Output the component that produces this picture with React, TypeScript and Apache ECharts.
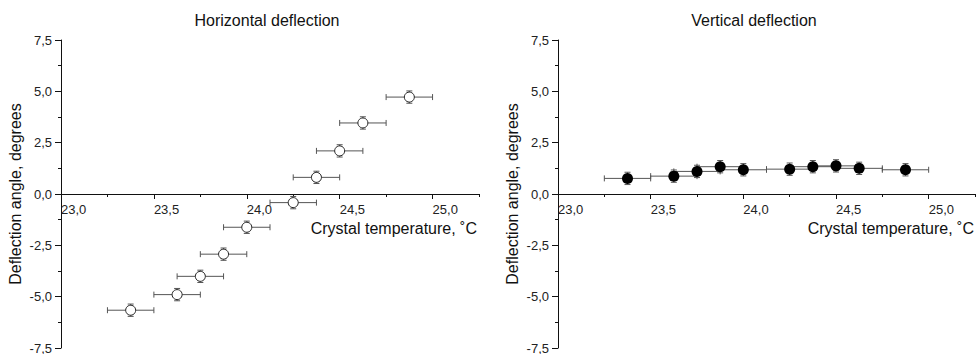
import React, { useEffect, useRef } from "react";
import * as echarts from "echarts";

// Horizontal deflection data (open circles)
const hTemp = [23.375, 23.625, 23.75, 23.875, 24.0, 24.25, 24.375, 24.5, 24.625, 24.875];
const hAngle = [-5.66, -4.9, -4.01, -2.93, -1.62, -0.42, 0.81, 2.1, 3.46, 4.72];
const hTempErr = [0.125, 0.125, 0.125, 0.125, 0.125, 0.125, 0.125, 0.125, 0.125, 0.125];
const hAngleErr = [0.3, 0.3, 0.3, 0.3, 0.3, 0.3, 0.3, 0.3, 0.3, 0.3];

// Vertical deflection data (filled circles)
const vTemp = [23.375, 23.625, 23.75, 23.875, 24.0, 24.25, 24.375, 24.5, 24.625, 24.875];
const vAngle = [0.76, 0.87, 1.1, 1.33, 1.18, 1.21, 1.33, 1.37, 1.25, 1.18];
const vTempErr = [0.125, 0.125, 0.125, 0.125, 0.125, 0.125, 0.125, 0.125, 0.125, 0.125];
const vAngleErr = [0.3, 0.3, 0.3, 0.3, 0.3, 0.3, 0.3, 0.3, 0.3, 0.3];

// Axis ticks
const xMajorTicks = [23.0, 23.5, 24.0, 24.5, 25.0];
const xMinorTicks = [23.25, 23.75, 24.25, 24.75, 25.25];
const xMin = 23.0;
const xMax = 25.25;
const xInterval = 0.25;
const yMin = -7.5;
const yMax = 7.5;
const yInterval = 2.5;

const titles = ["Horizontal deflection", "Vertical deflection"];
const xName = "Crystal temperature, \u02DAC";
const yName = "Deflection angle, degrees";

const FONT = "'Liberation Sans', Arial, sans-serif";
const comma = (v: number) => v.toFixed(1).replace(".", ",");

export default function App() {
  const ref = useRef<HTMLDivElement>(null);
  useEffect(() => {
    if (!ref.current) return;
    const chart = echarts.init(ref.current, null, { renderer: "svg" });

    const gridTop = 40;
    const gridHeight = 308;
    const grids = [
      { left: 61, top: gridTop, width: 418, height: gridHeight, containLabel: false, outerBoundsMode: "none" },
      { left: 558, top: gridTop, width: 417, height: gridHeight, containLabel: false, outerBoundsMode: "none" },
    ];
    // x axis sits at y = 0 (middle of the symmetric y range)
    const zeroOffset = -gridHeight * ((0 - yMin) / (yMax - yMin));

    const xAxes: any[] = [];
    const yAxes: any[] = [];
    grids.forEach((_, gi) => {
      xAxes.push({
        gridIndex: gi,
        type: "value",
        min: xMin,
        max: xMax,
        interval: xInterval,
        position: "bottom",
        offset: zeroOffset,
        axisLine: { show: true, onZero: false, lineStyle: { color: "#111", width: 1 } },
        axisTick: { show: true, length: 5, customValues: xMajorTicks, lineStyle: { color: "#111" } },
        axisLabel: {
          show: true,
          customValues: xMajorTicks,
          formatter: (v: number) => comma(v),
          align: "left",
          margin: 9,
          fontSize: 13,
          color: "#222",
          fontFamily: FONT,
        },
        splitLine: { show: false },
      });
      xAxes.push({
        gridIndex: gi,
        type: "value",
        min: xMin,
        max: xMax,
        interval: xInterval,
        position: "bottom",
        offset: zeroOffset,
        axisLine: { show: false, onZero: false },
        axisTick: { show: true, length: 3, customValues: xMinorTicks, lineStyle: { color: "#111" } },
        axisLabel: { show: false },
        splitLine: { show: false },
      });
      yAxes.push({
        gridIndex: gi,
        type: "value",
        min: yMin,
        max: yMax,
        interval: yInterval,
        position: "left",
        name: yName,
        nameLocation: "middle",
        nameGap: 38,
        nameTextStyle: { fontSize: 16, color: "#111", fontFamily: FONT },
        axisLine: { show: true, onZero: false, lineStyle: { color: "#111", width: 1 } },
        axisTick: { show: true, length: 6, lineStyle: { color: "#111" } },
        minorTick: { show: true, splitNumber: 2, length: 3, lineStyle: { color: "#111" } },
        axisLabel: {
          formatter: (v: number) => comma(v),
          margin: 9,
          fontSize: 13,
          color: "#222",
          fontFamily: FONT,
        },
        splitLine: { show: false },
      });
    });

    const errRender = (params: any, api: any) => {
      const x = api.value(0);
      const y = api.value(1);
      const xe = api.value(2);
      const ye = api.value(3);
      const l = api.coord([x - xe, y]);
      const r = api.coord([x + xe, y]);
      const t = api.coord([x, y + ye]);
      const b = api.coord([x, y - ye]);
      const cap = 3;
      const style = { stroke: "#555", lineWidth: 1 };
      return {
        type: "group",
        children: [
          { type: "line", shape: { x1: l[0], y1: l[1], x2: r[0], y2: r[1] }, style },
          { type: "line", shape: { x1: l[0], y1: l[1] - cap, x2: l[0], y2: l[1] + cap }, style },
          { type: "line", shape: { x1: r[0], y1: r[1] - cap, x2: r[0], y2: r[1] + cap }, style },
          { type: "line", shape: { x1: t[0], y1: t[1], x2: b[0], y2: b[1] }, style },
          { type: "line", shape: { x1: t[0] - cap, y1: t[1], x2: t[0] + cap, y2: t[1] }, style },
          { type: "line", shape: { x1: b[0] - cap, y1: b[1], x2: b[0] + cap, y2: b[1] }, style },
        ],
      };
    };

    const hData = hTemp.map((x, i) => [x, hAngle[i], hTempErr[i], hAngleErr[i]]);
    const vData = vTemp.map((x, i) => [x, vAngle[i], vTempErr[i], vAngleErr[i]]);

    chart.setOption({
      animation: false,
      textStyle: { fontFamily: FONT },
      grid: grids,
      xAxis: xAxes,
      yAxis: yAxes,
      graphic: [
        { type: "text", x: 267, y: 20, style: { text: titles[0], fontSize: 16, fill: "#111", fontFamily: FONT, align: "center", verticalAlign: "middle" } },
        { type: "text", x: 754, y: 20, style: { text: titles[1], fontSize: 16, fill: "#111", fontFamily: FONT, align: "center", verticalAlign: "middle" } },
        { type: "text", x: 477, y: 228, style: { text: xName, fontSize: 16, fill: "#111", fontFamily: FONT, align: "right", verticalAlign: "middle" } },
        { type: "text", x: 974, y: 228, style: { text: xName, fontSize: 16, fill: "#111", fontFamily: FONT, align: "right", verticalAlign: "middle" } },
      ],
      series: [
        {
          type: "custom",
          xAxisIndex: 0,
          yAxisIndex: 0,
          renderItem: errRender,
          encode: { x: 0, y: 1 },
          data: hData,
          z: 2,
        },
        {
          type: "scatter",
          xAxisIndex: 0,
          yAxisIndex: 0,
          symbol: "circle",
          symbolSize: 10,
          itemStyle: { color: "#fff", borderColor: "#222", borderWidth: 1, opacity: 1 },
          data: hData.map((d) => [d[0], d[1]]),
          z: 3,
        },
        {
          type: "custom",
          xAxisIndex: 2,
          yAxisIndex: 1,
          renderItem: errRender,
          encode: { x: 0, y: 1 },
          data: vData,
          z: 2,
        },
        {
          type: "scatter",
          xAxisIndex: 2,
          yAxisIndex: 1,
          symbol: "circle",
          symbolSize: 11,
          itemStyle: { color: "#000", borderColor: "#000", borderWidth: 0, opacity: 1 },
          data: vData.map((d) => [d[0], d[1]]),
          z: 3,
        },
      ],
    });
    return () => chart.dispose();
  }, []);
  return (
    <div
      ref={ref}
      style={{ position: "fixed", left: 0, top: 0, width: 976, height: 354, background: "#fff" }}
    />
  );
}
